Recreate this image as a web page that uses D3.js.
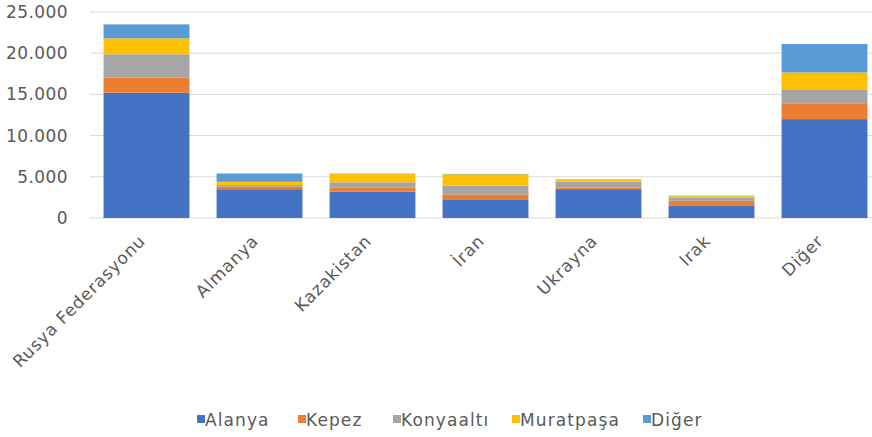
<!DOCTYPE html>
<html>
<head>
<meta charset="utf-8">
<script src="https://cdn.jsdelivr.net/npm/d3@7"></script>
<style>
  body { margin: 0; background: #fff; }
  svg text { font-family: "DejaVu Sans", "Noto Sans", sans-serif; fill: #595959; }
</style>
</head>
<body>
<svg width="872" height="437"></svg>
<script>
// countries (categories)
var countries = ["Rusya Federasyonu", "Almanya", "Kazakistan", "İran", "Ukrayna", "Irak", "Diğer"];
// districts (series)
var districts = ["Alanya", "Kepez", "Konyaaltı", "Muratpaşa", "Diğer"];
var alanya    = [15200, 3500, 3200, 2270, 3500, 1450, 12000];
var kepez     = [1830, 280, 520, 600, 200, 650, 1850];
var konyaalti = [2840, 220, 610, 1050, 700, 350, 1770];
var muratpasa = [1930, 400, 1000, 1380, 250, 200, 2040];
var diger     = [1700, 1000, 50, 50, 50, 50, 3460];
var yTicks = [0, 5000, 10000, 15000, 20000, 25000];

var colors = ["#4472C4", "#ED7D31", "#A5A5A5", "#FFC000", "#5B9BD5"];
var series = [alanya, kepez, konyaalti, muratpasa, diger];

var rows = countries.map(function(c, i) {
    var r = { country: c };
    districts.forEach(function(d, j) { r[d] = series[j][i]; });
    return r;
});

var svg = d3.select("svg");

var x = d3.scaleBand().domain(countries).range([90, 881]).paddingInner(0.24).paddingOuter(0.12);
var y = d3.scaleLinear().domain([0, 25000]).range([218, 12]);

var fmt = function(d) { return d3.format(",")(d).replace(/,/g, "."); };

// gridlines
svg.append("g")
    .selectAll("line")
    .data(yTicks)
    .enter().append("line")
    .attr("x1", 90).attr("x2", 872)
    .attr("y1", function(d) { return y(d); })
    .attr("y2", function(d) { return y(d); })
    .attr("stroke", "#d9d9d9")
    .attr("stroke-width", 1);

// y axis labels
var yAxis = svg.append("g")
    .attr("transform", "translate(68,0)")
    .call(d3.axisLeft(y).tickValues(yTicks).tickFormat(fmt).tickSize(0).tickPadding(0));
yAxis.select(".domain").remove();
yAxis.selectAll("text")
    .attr("font-size", "17px")
    .attr("fill", "#595959")
    .style("font-family", "DejaVu Sans, sans-serif")
    .style("letter-spacing", "0.4px");

// stacked bars
var stack = d3.stack().keys(districts)(rows);
svg.append("g")
    .selectAll("g")
    .data(stack)
    .enter().append("g")
    .attr("fill", function(d, i) { return colors[i]; })
    .selectAll("rect")
    .data(function(d) { return d; })
    .enter().append("rect")
    .attr("x", function(d) { return x(d.data.country); })
    .attr("width", x.bandwidth())
    .attr("y", function(d) { return y(d[1]); })
    .attr("height", function(d) { return y(d[0]) - y(d[1]); });

// x labels rotated
svg.append("g")
    .selectAll("text")
    .data(countries)
    .enter().append("text")
    .attr("transform", function(d) {
        return "translate(" + (x(d) + x.bandwidth() / 2) + ",242) rotate(-45)";
    })
    .attr("text-anchor", "end")
    .attr("font-size", "17px")
    .style("letter-spacing", "0.8px")
    .text(function(d) { return d; });

// legend
var legendX = [197, 298, 393, 512, 643];
var legend = svg.append("g");
districts.forEach(function(d, i) {
    var g = legend.append("g").attr("transform", "translate(" + legendX[i] + ",426)");
    g.append("rect").attr("x", 0).attr("y", -11).attr("width", 8).attr("height", 8).attr("fill", colors[i]);
    g.append("text").attr("x", 8).attr("y", 0).attr("font-size", "17px")
        .style("letter-spacing", "1.1px").text(d);
});
</script>
</body>
</html>
